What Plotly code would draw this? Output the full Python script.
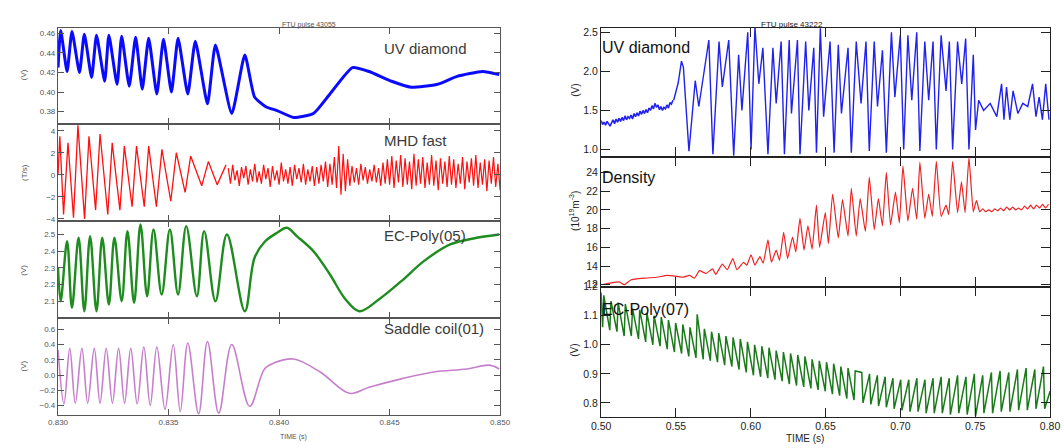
import numpy as np
import plotly.graph_objects as go

# ---------------- LEFT PANEL DATA (FTU pulse 43055) ----------------
uv1_t = [0.83000, 0.83012, 0.83041, 0.83063, 0.83097, 0.83119, 0.83152, 0.83174, 0.83211, 0.83230,
         0.83267, 0.83288, 0.83322, 0.83351, 0.83381, 0.83410, 0.83447, 0.83477, 0.83513, 0.83543,
         0.83587, 0.83621, 0.83676, 0.83712, 0.83786, 0.83845, 0.83889, 0.83940, 0.83991, 0.84066,
         0.84155, 0.84230, 0.84332, 0.84407, 0.84509, 0.84597, 0.84717, 0.84805, 0.84920, 0.84996]
uv1_v = [0.425, 0.463, 0.421, 0.462, 0.420, 0.459, 0.415, 0.458, 0.411, 0.458,
         0.408, 0.457, 0.406, 0.456, 0.403, 0.455, 0.398, 0.454, 0.400, 0.455,
         0.398, 0.452, 0.388, 0.448, 0.378, 0.438, 0.395, 0.385, 0.381, 0.374,
         0.378, 0.398, 0.425, 0.421, 0.411, 0.405, 0.408, 0.416, 0.421, 0.418]

mhd_t = [0.83000, 0.83008, 0.83025, 0.83045, 0.83070, 0.83090, 0.83120, 0.83140, 0.83170, 0.83190,
         0.83225, 0.83245, 0.83280, 0.83300, 0.83335, 0.83355, 0.83390, 0.83410, 0.83445, 0.83470,
         0.83510, 0.83535, 0.83575, 0.83600, 0.83650, 0.83680, 0.83720, 0.83760]
mhd_v = [0.0, 3.5, -3.6, 2.9, -3.9, 4.5, -4.0, 3.5, -3.2, 3.7,
         -3.6, 2.9, -3.2, 2.6, -2.9, 2.6, -2.9, 2.6, -2.9, 2.3,
         -2.4, 2.0, -1.6, 1.7, -1.0, 1.2, -0.9, 0.9]
mhd_noise_start = 0.8377
mhd_noise_end = 0.8500
mhd_noise_v = [0.6, -0.8, 0.9, -0.5, 0.4, -1.0, 0.7, -0.3, 0.8, -0.9, 0.5, -0.6, 1.0, -0.7, 0.3, -0.8,
               0.9, -0.4, 0.6, -1.1, 0.8, -0.5, 0.4, -0.9, 1.1, -0.6, 0.5, -0.8, 0.7, -1.0, 0.9, -0.4,
               0.6, -0.7, 1.0, -0.9, 0.5, -0.6, 0.8, -1.0, 0.7, -0.8, 0.9, -0.6, 1.2, -1.1, 1.0, -0.9,
               1.6, -1.2, 2.6, -1.8, 1.9, -1.5, 1.4, -1.0, 0.8, -0.7, 0.6, -0.9, 1.0, -0.5, 0.7, -0.8,
               0.5, -0.6, 0.9, -0.7, 0.6, -1.0, 1.1, -0.8, 1.4, -0.9, 1.7, -1.2, 1.3, -0.7, 1.8, -1.1,
               1.5, -0.9, 1.2, -1.3, 1.9, -1.0, 1.4, -0.8, 1.6, -1.2, 1.1, -0.9, 1.8, -1.0, 1.3, -1.4,
               1.5, -0.8, 1.2, -1.1, 1.7, -0.9, 1.4, -1.2, 1.0, -0.8, 1.6, -1.3, 1.2, -0.7, 1.5, -1.0,
               1.8, -1.2, 1.1, -0.9, 1.4, -1.5, 1.3, -0.8, 1.6, -1.1, 1.0, -1.4]

ec5_t = [0.83000, 0.83012, 0.83041, 0.83063, 0.83093, 0.83119, 0.83145, 0.83174, 0.83200, 0.83230,
         0.83255, 0.83288, 0.83314, 0.83344, 0.83373, 0.83403, 0.83432, 0.83469, 0.83506, 0.83543,
         0.83580, 0.83628, 0.83661, 0.83712, 0.83764, 0.83845, 0.83889, 0.83934, 0.83991, 0.84035,
         0.84080, 0.84155, 0.84230, 0.84301, 0.84363, 0.84451, 0.84553, 0.84655, 0.84774, 0.84894,
         0.84996]
ec5_v = [2.30, 2.10, 2.46, 2.06, 2.48, 2.04, 2.49, 2.04, 2.48, 2.08,
         2.48, 2.10, 2.52, 2.09, 2.56, 2.13, 2.53, 2.14, 2.53, 2.14,
         2.55, 2.13, 2.52, 2.10, 2.50, 2.04, 2.36, 2.455, 2.51, 2.54,
         2.49, 2.40, 2.26, 2.11, 2.04, 2.11, 2.22, 2.34, 2.44, 2.48,
         2.50]

sad_t = [0.83000, 0.83027, 0.83053, 0.83078, 0.83108, 0.83134, 0.83164, 0.83190, 0.83218, 0.83246,
         0.83274, 0.83301, 0.83329, 0.83358, 0.83388, 0.83417, 0.83447, 0.83484, 0.83521, 0.83553,
         0.83587, 0.83636, 0.83676, 0.83727, 0.83786, 0.83867, 0.83934, 0.83978, 0.84066, 0.84186,
         0.84319, 0.84407, 0.84553, 0.84699, 0.84850, 0.84951, 0.84996]
sad_v = [0.33, -0.38, 0.35, -0.37, 0.35, -0.37, 0.35, -0.37, 0.35, -0.37,
         0.35, -0.37, 0.35, -0.38, 0.37, -0.40, 0.37, -0.45, 0.40, -0.48,
         0.42, -0.51, 0.44, -0.50, 0.40, -0.41, 0.08, 0.16, 0.21, 0.04,
         -0.24, -0.16, -0.05, 0.04, 0.08, 0.13, 0.08]

left_xticks = [0.830, 0.835, 0.840, 0.845, 0.850]
left_xlabels = ["0.830", "0.835", "0.840", "0.845", "0.850"]
left_labels = ["UV diamond", "MHD fast", "EC-Poly(05)", "Saddle coil(01)"]
left_units = ["(V)", "(T/s)", "(V)", "(V)"]

# ---------------- RIGHT PANEL DATA (FTU pulse 43222) ----------------
uv2_noise_start = 0.5000
uv2_noise_end = 0.5480
uv2_noise_v = [1.37, 1.32, 1.35, 1.31, 1.36, 1.33, 1.30, 1.34, 1.38, 1.33,
               1.39, 1.35, 1.40, 1.36, 1.41, 1.37, 1.43, 1.38, 1.42, 1.40,
               1.44, 1.39, 1.46, 1.42, 1.47, 1.43, 1.49, 1.45, 1.50, 1.46,
               1.51, 1.47, 1.53, 1.50, 1.56, 1.52, 1.59, 1.54, 1.57, 1.51,
               1.55, 1.50, 1.54, 1.52, 1.57, 1.53, 1.60, 1.58, 1.63]
uv2_t = [0.5485, 0.5515, 0.5537, 0.5550, 0.5587, 0.5629,
         0.5653, 0.5712, 0.5720, 0.5747, 0.5788, 0.5810, 0.5853, 0.5886, 0.5919, 0.5941,
         0.5980, 0.6002, 0.6028, 0.6054, 0.6081, 0.6115, 0.6148, 0.6170, 0.6203, 0.6225,
         0.6257, 0.6272, 0.6312, 0.6329, 0.6367, 0.6388, 0.6421, 0.6439, 0.6465, 0.6487,
         0.6530, 0.6557, 0.6585, 0.6606, 0.6650, 0.6672, 0.6705, 0.6737, 0.6770, 0.6792,
         0.6825, 0.6847, 0.6880, 0.6906, 0.6940, 0.6963, 0.6999, 0.7022, 0.7050, 0.7076,
         0.7109, 0.7130, 0.7163, 0.7189, 0.7218, 0.7240, 0.7272, 0.7305, 0.7327, 0.7349,
         0.7382, 0.7410, 0.7436, 0.7458, 0.7487, 0.7502, 0.7523, 0.7556, 0.7600, 0.7644,
         0.7676, 0.7692, 0.7709, 0.7731, 0.7753, 0.7785, 0.7818, 0.7851, 0.7883, 0.7906,
         0.7927, 0.7949, 0.7971, 0.7993]
uv2_v = [1.63, 1.85, 2.13, 2.05, 0.98, 1.88,
         1.55, 2.25, 2.40, 0.94, 2.38, 1.80, 2.40, 0.92, 2.21, 1.50,
         2.50, 1.00, 2.57, 1.84, 2.30, 0.94, 2.30, 1.59, 2.38, 0.94,
         2.40, 1.46, 2.40, 0.94, 2.38, 1.50, 2.30, 0.96, 2.55, 1.42,
         2.38, 0.96, 2.34, 1.46, 2.30, 0.96, 2.38, 1.59, 2.38, 0.98,
         2.38, 1.55, 2.27, 0.96, 2.50, 1.67, 2.46, 1.00, 2.46, 1.63,
         2.50, 0.98, 2.38, 1.63, 2.38, 1.00, 2.46, 1.75, 2.38, 1.00,
         2.38, 1.84, 2.42, 1.00, 2.21, 1.25, 1.63, 1.50, 1.59, 1.42,
         1.84, 1.38, 1.80, 1.38, 1.75, 1.46, 1.59, 1.55, 1.84, 1.42,
         1.67, 1.38, 1.84, 1.38]

den_t = [0.5002, 0.5067, 0.5122, 0.5155, 0.5198, 0.5286, 0.5373, 0.5439, 0.5504, 0.5548,
         0.5591, 0.5624, 0.5657, 0.5701, 0.5745, 0.5766, 0.5810, 0.5843, 0.5880, 0.5908,
         0.5952, 0.5974, 0.6002, 0.6028, 0.6061, 0.6083, 0.6115, 0.6138, 0.6170, 0.6192,
         0.6220, 0.6246, 0.6279, 0.6301, 0.6329, 0.6356, 0.6382, 0.6410, 0.6439, 0.6460,
         0.6498, 0.6519, 0.6547, 0.6585, 0.6613, 0.6650, 0.6672, 0.6705, 0.6731, 0.6766,
         0.6792, 0.6825, 0.6853, 0.6880, 0.6906, 0.6934, 0.6967, 0.6993, 0.7017, 0.7050,
         0.7081, 0.7109, 0.7130, 0.7163, 0.7189, 0.7213, 0.7240, 0.7272, 0.7305, 0.7323,
         0.7349, 0.7382, 0.7408, 0.7432, 0.7458, 0.7487, 0.7508, 0.7530,
         0.7550, 0.7570, 0.7590, 0.7610, 0.7630, 0.7650, 0.7670, 0.7690, 0.7710, 0.7730,
         0.7750, 0.7770, 0.7790, 0.7810, 0.7830, 0.7850, 0.7870, 0.7890, 0.7910, 0.7930,
         0.7950, 0.7970, 0.7990]
den_v = [12.0, 12.2, 12.3, 12.0, 12.5, 12.7, 12.8, 13.0, 12.9, 12.8,
         13.0, 12.7, 13.5, 13.2, 13.7, 13.1, 14.2, 13.6, 14.8, 13.6,
         14.4, 14.1, 15.2, 14.1, 15.0, 14.3, 16.8, 14.4, 15.7, 14.6,
         17.6, 14.8, 17.1, 15.5, 19.1, 15.7, 18.3, 15.8, 20.5, 16.0,
         19.7, 16.4, 21.7, 17.0, 21.1, 17.2, 22.3, 17.2, 21.2, 17.7,
         23.5, 17.9, 21.2, 18.3, 24.0, 18.4, 21.9, 18.6, 24.7, 18.8,
         22.3, 19.0, 25.1, 19.1, 21.7, 19.3, 25.2, 19.3, 20.5, 19.5,
         25.2, 19.7, 23.0, 19.7, 25.6, 19.8, 21.0, 19.8,
         20.1, 19.8, 20.0, 19.8, 20.1, 19.9, 20.2, 19.9, 20.3, 20.0,
         20.3, 20.0, 20.2, 20.0, 20.4, 20.1, 20.5, 20.1, 20.5, 20.2,
         20.6, 20.2, 20.6]

ec7_t = [0.5000,
         0.5010, 0.5018, 0.5058, 0.5066, 0.5106, 0.5114, 0.5154, 0.5162, 0.5202, 0.5210,
         0.5250, 0.5258, 0.5298, 0.5306, 0.5346, 0.5354, 0.5394, 0.5402, 0.5442, 0.5450,
         0.5490, 0.5498, 0.5538, 0.5546, 0.5586, 0.5594, 0.5634, 0.5642, 0.5682, 0.5690,
         0.5730, 0.5738, 0.5778, 0.5786, 0.5826, 0.5834, 0.5874, 0.5882, 0.5922, 0.5930,
         0.5970, 0.5978, 0.6018, 0.6026, 0.6066, 0.6074, 0.6114, 0.6122, 0.6162, 0.6170,
         0.6210, 0.6218, 0.6258, 0.6266, 0.6306, 0.6314, 0.6354, 0.6362, 0.6402, 0.6410,
         0.6450, 0.6458, 0.6498, 0.6506, 0.6546, 0.6554, 0.6594, 0.6602, 0.6642, 0.6650,
         0.6690, 0.6698,
         0.6742, 0.6750, 0.6794, 0.6802, 0.6846, 0.6854, 0.6898, 0.6906, 0.6950, 0.6958,
         0.7002, 0.7010, 0.7056, 0.7064, 0.7110, 0.7118, 0.7164, 0.7172, 0.7218, 0.7226,
         0.7272, 0.7280, 0.7326, 0.7334, 0.7382, 0.7390, 0.7438, 0.7446, 0.7494, 0.7502,
         0.7550, 0.7558, 0.7608, 0.7616, 0.7666, 0.7674, 0.7724, 0.7732, 0.7782, 0.7790,
         0.7840, 0.7848, 0.7898, 0.7906, 0.7956, 0.7964, 0.8000]
ec7_v = [1.180,
         1.060, 1.170, 1.050, 1.150, 1.045, 1.145, 1.030, 1.140, 1.030, 1.125,
         1.020, 1.120, 1.010, 1.110, 1.000, 1.100, 0.995, 1.095, 0.985, 1.085,
         0.975, 1.075, 0.970, 1.070, 0.960, 1.060, 0.955, 1.105, 0.950, 1.055,
         0.945, 1.045, 0.940, 1.040, 0.930, 1.030, 0.925, 1.025, 0.915, 1.020,
         0.905, 1.010, 0.895, 1.000, 0.890, 0.995, 0.885, 0.990, 0.880, 0.980,
         0.875, 0.975, 0.865, 0.970, 0.860, 0.965, 0.855, 0.960, 0.850, 0.950,
         0.845, 0.945, 0.840, 0.940, 0.830, 0.935, 0.825, 0.925, 0.815, 0.920,
         0.810, 0.910,
         0.905, 0.800, 0.900, 0.795, 0.895, 0.790, 0.890, 0.785, 0.885, 0.780,
         0.880, 0.775, 0.880, 0.770, 0.885, 0.770, 0.880, 0.765, 0.885, 0.765,
         0.890, 0.765, 0.885, 0.760, 0.895, 0.765, 0.890, 0.760, 0.900, 0.755,
         0.895, 0.765, 0.905, 0.765, 0.910, 0.770, 0.905, 0.770, 0.915, 0.775,
         0.920, 0.775, 0.915, 0.780, 0.925, 0.780, 0.840]

right_xticks = [0.50, 0.55, 0.60, 0.65, 0.70, 0.75, 0.80]
right_xlabels = ["0.50", "0.55", "0.60", "0.65", "0.70", "0.75", "0.80"]
right_labels = ["UV diamond", "Density", "EC-Poly(07)"]
right_units = ["(V)", "(10<sup>19</sup>m<sup>-3</sup>)", "(V)"]

# ---------------- FIGURE ----------------
W, H = 1064, 448
FONT = "Liberation Sans, Arial, sans-serif"

def fx(px):
    return px / W

def fy(py):
    return 1 - py / H

fig = go.Figure()

mhd_noise_t = np.linspace(mhd_noise_start, mhd_noise_end, len(mhd_noise_v))
uv2_noise_t = np.linspace(uv2_noise_start, uv2_noise_end, len(uv2_noise_v))

traces = [
    (uv1_t, uv1_v, 1, "#0a0aff", 3.0, "spline", 0.5),
    (mhd_t, mhd_v, 2, "#ff1010", 1.3, "linear", None),
    (list(mhd_noise_t), mhd_noise_v, 2, "#ff1010", 1.2, "linear", None),
    (ec5_t, ec5_v, 3, "#1e8c1e", 2.4, "spline", 1.0),
    (sad_t, sad_v, 4, "#c77fcb", 1.6, "spline", 1.0),
    (list(uv2_noise_t), uv2_noise_v, 5, "#2222ee", 1.6, "linear", None),
    (uv2_t, uv2_v, 5, "#2222ee", 1.4, "linear", None),
    (den_t, den_v, 6, "#ee2222", 1.2, "spline", 0.4),
    (ec7_t, ec7_v, 7, "#1a7a1a", 1.5, "linear", None),
]
for xs, ys, k, col, w, shape, smooth in traces:
    sfx = "" if k == 1 else str(k)
    line = dict(color=col, width=w, shape=shape)
    if smooth is not None:
        line["smoothing"] = smooth
    fig.add_trace(go.Scatter(x=xs, y=ys, mode="lines", xaxis="x" + sfx, yaxis="y" + sfx,
                             line=line, showlegend=False, hoverinfo="skip"))

# panel geometry (pixels)
left_x = (49, 500)
left_rows = [(22, 121), (121, 220), (220, 319), (319, 418)]
left_yr = [(0.367, 0.466), (-4.2, 4.58), (2.0, 2.58), (-0.52, 0.75)]
left_yt = [[0.38, 0.40, 0.42, 0.44, 0.46], [-4, -2, 0, 2, 4],
           [2.1, 2.2, 2.3, 2.4, 2.5], [-0.4, -0.2, 0.0, 0.2, 0.4, 0.6]]
left_yfmt = [".2f", "d", ".1f", ".1f"]

right_x = (603, 1061)
right_rows = [(22, 154), (154, 287), (287, 420)]
right_yr = [(0.91, 2.56), (11.8, 25.7), (0.753, 1.2)]
right_yt = [[1.0, 1.5, 2.0, 2.5], [12, 14, 16, 18, 20, 22, 24], [0.8, 0.9, 1.0, 1.1, 1.2]]
right_yfmt = [".1f", "d", ".1f"]

layout = dict(width=W, height=H, margin=dict(l=0, r=0, t=0, b=0),
              paper_bgcolor="white", plot_bgcolor="white", showlegend=False)

def axes(k, xpx, rowpx, xr, yr, xt, xl, yt, yfmt, bottom, style):
    sfx = "" if k == 1 else str(k)
    lc, lw, tl, tfs, tcol = style
    layout["xaxis" + sfx] = dict(
        domain=[fx(xpx[0]), fx(xpx[1])], range=list(xr), anchor="y" + sfx,
        showgrid=False, zeroline=False, showline=True, linecolor=lc, linewidth=lw,
        mirror="ticks", ticks="inside", ticklen=tl, tickcolor=lc, tickwidth=lw,
        tickvals=xt, ticktext=xl, showticklabels=bottom, ticklabeloverflow="allow",
        tickfont=dict(family=FONT, size=tfs, color=tcol))
    layout["yaxis" + sfx] = dict(
        domain=[fy(rowpx[1]), fy(rowpx[0])], range=list(yr), anchor="x" + sfx,
        showgrid=False, zeroline=False, showline=True, linecolor=lc, linewidth=lw,
        mirror="ticks", ticks="inside", ticklen=tl, tickcolor=lc, tickwidth=lw,
        tickvals=yt, tickformat=yfmt,
        tickfont=dict(family=FONT, size=tfs, color=tcol))

left_style = ("#555555", 1.3, 6, 8, "#555555")
right_style = ("#222222", 1.2, 9, 10.5, "#222222")

for i in range(4):
    axes(i + 1, left_x, left_rows[i], (0.830, 0.850), left_yr[i], left_xticks, left_xlabels,
         left_yt[i], left_yfmt[i], i == 3, left_style)
for i in range(3):
    axes(i + 5, right_x, right_rows[i], (0.50, 0.80), right_yr[i], right_xticks, right_xlabels,
         right_yt[i], right_yfmt[i], i == 2, right_style)

ann = []
# left panel texts
left_label_py = [43, 138, 235, 330]
for lab, py in zip(left_labels, left_label_py):
    ann.append(dict(x=fx(379), y=fy(py), xref="paper", yref="paper", text=lab, showarrow=False,
                    xanchor="left", yanchor="middle", font=dict(family=FONT, size=15, color="#3a3a3a")))
left_unit_py = [70, 170, 270, 368]
for u, py in zip(left_units, left_unit_py):
    ann.append(dict(x=fx(14), y=fy(py), xref="paper", yref="paper", text=u, showarrow=False,
                    textangle=-90, xanchor="center", yanchor="middle",
                    font=dict(family=FONT, size=8, color="#555555")))
ann.append(dict(x=fx(275), y=fy(13), xref="paper", yref="paper", text="FTU pulse 43055",
                showarrow=False, font=dict(family=FONT, size=7, color="#555555")))
ann.append(dict(x=fx(273), y=fy(441), xref="paper", yref="paper", text="TIME (s)",
                showarrow=False, yanchor="middle", font=dict(family=FONT, size=7, color="#555555")))

# right panel texts
right_label_py = [42, 175, 310]
for lab, py in zip(right_labels, right_label_py):
    ann.append(dict(x=fx(602), y=fy(py), xref="paper", yref="paper", text=lab, showarrow=False,
                    xanchor="left", yanchor="middle", font=dict(family=FONT, size=16, color="#111111")))
right_unit_py = [86, 210, 352]
for u, py in zip(right_units, right_unit_py):
    ann.append(dict(x=fx(576), y=fy(py), xref="paper", yref="paper", text=u, showarrow=False,
                    textangle=-90, xanchor="center", yanchor="middle",
                    font=dict(family=FONT, size=10, color="#222222")))
ann.append(dict(x=fx(831), y=fy(12), xref="paper", yref="paper", text="FTU pulse 43222",
                showarrow=False, font=dict(family=FONT, size=8, color="#222222")))
ann.append(dict(x=fx(832), y=fy(442), xref="paper", yref="paper", text="TIME (s)",
                showarrow=False, yanchor="middle", font=dict(family=FONT, size=10, color="#222222")))

layout["annotations"] = ann
fig.update_layout(**layout)
fig.write_html("out.html")
